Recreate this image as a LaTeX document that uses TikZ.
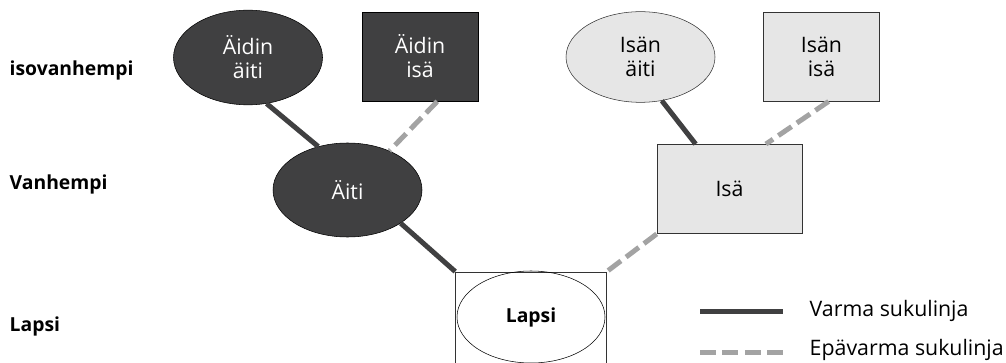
\documentclass[tikz,border=0pt]{standalone}
\usepackage{fontspec}
\setmainfont{Open Sans}
\usetikzlibrary{shapes.geometric}

\definecolor{tumma}{HTML}{404041}
\definecolor{vaalea}{HTML}{E6E6E6}
\definecolor{katko}{HTML}{A3A3A3}

\begin{document}
\begin{tikzpicture}[x=0.75pt, y=-0.75pt,
    font=\fontsize{16pt}{18pt}\selectfont,
    tummasoikio/.style={ellipse, fill=tumma, draw=black, text=white, align=center,
      minimum width=111.75pt, minimum height=71pt, inner sep=0pt},
    tummalaatikko/.style={rectangle, fill=tumma, draw=black, text=white, align=center,
      minimum width=87pt, minimum height=67pt, inner sep=0pt},
    vaaleasoikio/.style={ellipse, fill=vaalea, draw=black!80, align=center,
      minimum width=111.75pt, minimum height=68pt, inner sep=0pt},
    vaalealaatikko/.style={rectangle, fill=vaalea, draw=black!80, align=center,
      minimum width=87pt, minimum height=67pt, inner sep=0pt},
    varma/.style={line width=3.75pt, tumma},
    epavarma/.style={line width=3.75pt, katko, dash pattern=on 12pt off 4.8pt},
    taso/.style={anchor=west, font=\fontsize{14.5pt}{18pt}\selectfont\bfseries}]
  \clip (0,0) rectangle (1006,363);

  % sukupolvet
  \node[taso] (t1) at (5,70) {isovanhempi};
  \node[taso] (t2) at (5,184) {Vanhempi};
  \node[taso] (t3) at (5,326) {Lapsi};

  % isovanhemmat
  \node[tummasoikio] (aa) at (248,57.5) {Äidin\\äiti};
  \node[tummalaatikko] (ais) at (420,56.5) {Äidin\\isä};
  \node[vaaleasoikio] (ia) at (640.5,57) {Isän\\äiti};
  \node[vaalealaatikko] (ii) at (821.5,56.5) {Isän\\isä};

  % vanhemmat
  \node[tummasoikio, minimum height=70.5pt] (ai) at (347.5,190) {Äiti};
  \node[vaalealaatikko, minimum width=108.75pt] (i) at (729.5,189) {Isä};

  % lapsi
  \node[draw=black!80, rectangle, minimum width=113.25pt, minimum height=70pt, inner sep=0pt] (lb) at (531,318.5) {};
  \node[ellipse, draw=black, minimum width=111pt, minimum height=69pt, inner sep=0pt,
    font=\fontsize{14.5pt}{18pt}\selectfont\bfseries] (l) at (531,317) {Lapsi};

  % sukulinjat
  \draw[varma] (aa.-68) -- (ai.124);
  \draw[varma] (ai.-32) -- (lb.north west);
  \draw[epavarma] (ais.-69) -- (ai.43);
  \draw[varma] (ia.-64.5) -- (i.127.5);
  \draw[epavarma] (ii.-81.7) -- (i.51.7);
  \draw[epavarma] (i.south west) -- (lb.north east);

  % selite
  \coordinate (v1) at (700,311);
  \coordinate (v2) at (783,311);
  \coordinate (e1) at (700,352);
  \coordinate (e2) at (783,352);
  \draw[varma] (v1) -- (v2);
  \draw[epavarma] (e1) -- (e2);
  \node[anchor=west] (vt) at (805,311) {Varma sukulinja};
  \node[anchor=west] (et) at (805,350) {Epävarma sukulinja};
\end{tikzpicture}
\end{document}
